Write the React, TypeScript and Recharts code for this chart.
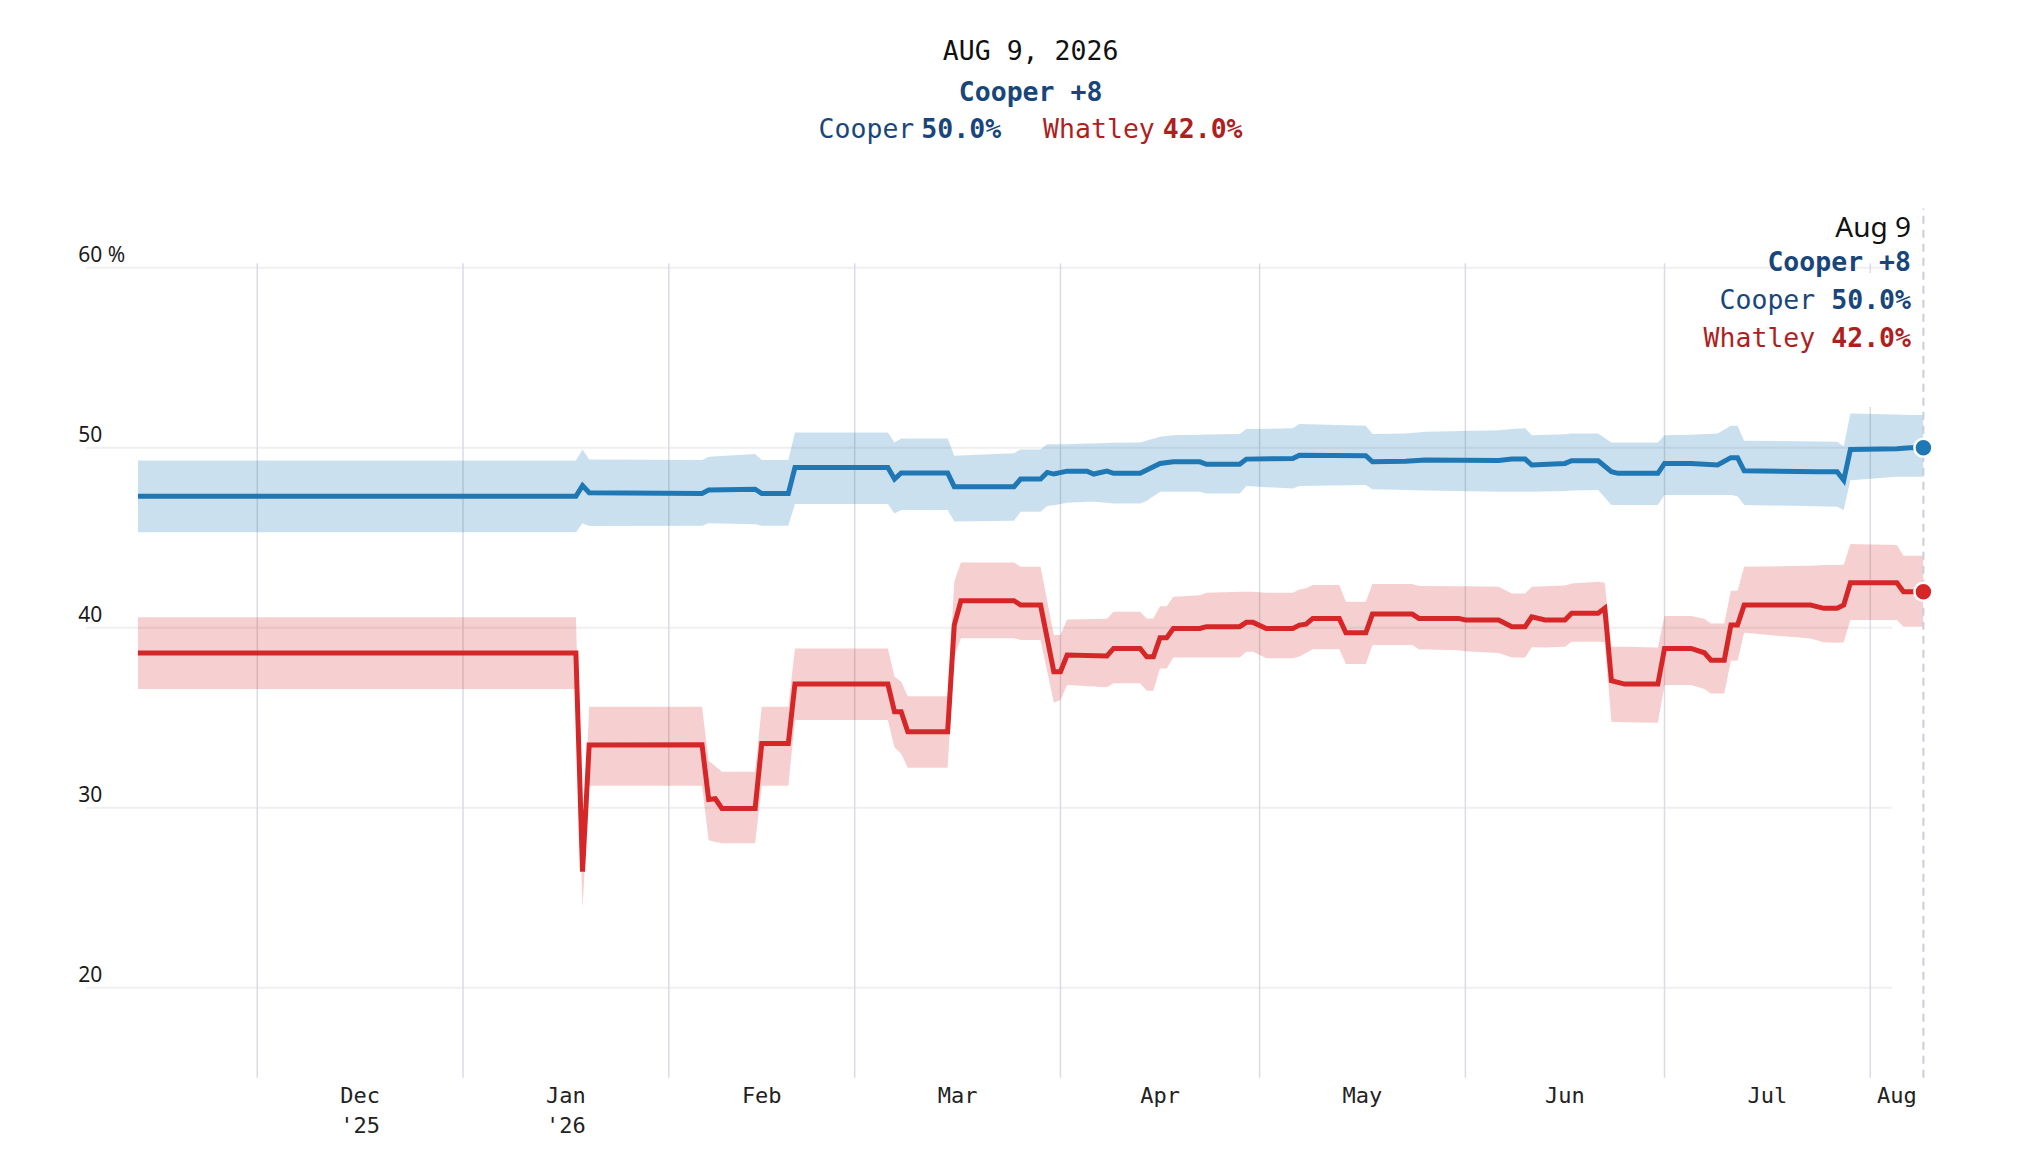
import {
  ComposedChart, Area, Line, XAxis, YAxis, CartesianGrid, ReferenceLine, ReferenceDot,
} from 'recharts';

// Cooper: polling average with uncertainty band
const cooperDates = [
  '2025-11-13', '2026-01-18', '2026-01-19', '2026-01-20', '2026-02-06', '2026-02-07', '2026-02-14',
  '2026-02-15', '2026-02-19', '2026-02-20', '2026-03-06', '2026-03-07', '2026-03-08', '2026-03-15',
  '2026-03-16', '2026-03-25', '2026-03-26', '2026-03-29', '2026-03-30', '2026-03-31', '2026-04-02',
  '2026-04-05', '2026-04-06', '2026-04-08', '2026-04-09', '2026-04-13', '2026-04-14', '2026-04-16',
  '2026-04-18', '2026-04-22', '2026-04-23', '2026-04-28', '2026-04-29', '2026-05-06', '2026-05-07',
  '2026-05-17', '2026-05-18', '2026-05-23', '2026-05-26', '2026-06-06', '2026-06-08', '2026-06-10',
  '2026-06-11', '2026-06-16', '2026-06-17', '2026-06-21', '2026-06-23', '2026-06-24', '2026-06-30',
  '2026-07-01', '2026-07-05', '2026-07-09', '2026-07-11', '2026-07-12', '2026-07-13', '2026-07-24',
  '2026-07-27', '2026-07-28', '2026-07-29', '2026-08-05', '2026-08-07', '2026-08-09',
];
const cooperMid = [
  47.3, 47.3, 47.9, 47.5, 47.46, 47.65, 47.7,
  47.46, 47.46, 48.91, 48.91, 48.26, 48.6, 48.6,
  47.84, 47.84, 48.26, 48.26, 48.63, 48.54, 48.7,
  48.7, 48.54, 48.7, 48.58, 48.58, 48.76, 49.13,
  49.22, 49.22, 49.08, 49.08, 49.37, 49.4, 49.59,
  49.56, 49.22, 49.25, 49.32, 49.3, 49.37, 49.37,
  49.04, 49.13, 49.28, 49.28, 48.67, 48.58, 48.58,
  49.13, 49.13, 49.04, 49.45, 49.45, 48.72, 48.67,
  48.67, 48.2, 49.91, 49.95, 50.0, 50.0,
];
const cooperLow = [
  45.3, 45.3, 45.8, 45.65, 45.67, 45.8, 45.75,
  45.67, 45.67, 46.87, 46.87, 46.35, 46.54, 46.54,
  45.9, 45.95, 46.45, 46.45, 46.76, 46.8, 46.95,
  47.0, 47.0, 46.95, 46.91, 46.91, 47.05, 47.56,
  47.56, 47.56, 47.46, 47.46, 47.87, 47.74, 47.87,
  47.93, 47.69, 47.65, 47.62, 47.56, 47.56, 47.56,
  47.56, 47.6, 47.62, 47.65, 46.82, 46.82, 46.82,
  47.37, 47.37, 47.37, 47.37, 47.3, 46.82, 46.75,
  46.72, 46.54, 48.2, 48.39, 48.39, 48.39,
];
const cooperHigh = [
  49.3, 49.3, 49.9, 49.35, 49.32, 49.5, 49.65,
  49.32, 49.32, 50.85, 50.85, 50.3, 50.52, 50.52,
  49.56, 49.7, 49.91, 49.91, 50.19, 50.2, 50.2,
  50.24, 50.24, 50.26, 50.28, 50.3, 50.4, 50.61,
  50.7, 50.72, 50.74, 50.76, 51.04, 51.08, 51.32,
  51.22, 50.76, 50.8, 50.89, 50.98, 51.05, 51.08,
  50.7, 50.75, 50.8, 50.8, 50.3, 50.3, 50.3,
  50.7, 50.72, 50.8, 51.22, 51.22, 50.39, 50.35,
  50.33, 50.09, 51.9, 51.85, 51.82, 51.82,
];

// Whatley
const whatleyDates = [
  '2025-11-13', '2026-01-18', '2026-01-19', '2026-01-20', '2026-02-06', '2026-02-07', '2026-02-08',
  '2026-02-09', '2026-02-14', '2026-02-15', '2026-02-19', '2026-02-20', '2026-03-06', '2026-03-07',
  '2026-03-08', '2026-03-09', '2026-03-15', '2026-03-16', '2026-03-17', '2026-03-25', '2026-03-26',
  '2026-03-29', '2026-03-31', '2026-04-01', '2026-04-02', '2026-04-08', '2026-04-09', '2026-04-13',
  '2026-04-14', '2026-04-15', '2026-04-16', '2026-04-17', '2026-04-18', '2026-04-22', '2026-04-23',
  '2026-04-28', '2026-04-29', '2026-04-30', '2026-05-02', '2026-05-06', '2026-05-07', '2026-05-08',
  '2026-05-09', '2026-05-13', '2026-05-14', '2026-05-17', '2026-05-18', '2026-05-24', '2026-05-25',
  '2026-05-31', '2026-06-01', '2026-06-06', '2026-06-08', '2026-06-10', '2026-06-11', '2026-06-13',
  '2026-06-16', '2026-06-17', '2026-06-21', '2026-06-22', '2026-06-23', '2026-06-25', '2026-06-30',
  '2026-07-01', '2026-07-05', '2026-07-07', '2026-07-08', '2026-07-10', '2026-07-11', '2026-07-12',
  '2026-07-13', '2026-07-23', '2026-07-25', '2026-07-27', '2026-07-28', '2026-07-29', '2026-08-05',
  '2026-08-06', '2026-08-09',
];
const whatleyMid = [
  38.6, 38.6, 26.45, 33.48, 33.5, 30.46, 30.5,
  29.96, 29.96, 33.57, 33.57, 36.87, 36.87, 35.33,
  35.33, 34.22, 34.22, 40.15, 41.5, 41.5, 41.26,
  41.26, 37.56, 37.56, 38.48, 38.43, 38.85, 38.85,
  38.39, 38.39, 39.45, 39.45, 39.96, 39.96, 40.06,
  40.06, 40.3, 40.3, 39.96, 39.96, 40.15, 40.2,
  40.52, 40.52, 39.72, 39.72, 40.76, 40.76, 40.52,
  40.52, 40.43, 40.43, 40.06, 40.06, 40.61, 40.43,
  40.43, 40.8, 40.8, 41.08, 37.06, 36.87, 36.87,
  38.85, 38.85, 38.61, 38.2, 38.2, 40.15, 40.15,
  41.26, 41.26, 41.08, 41.08, 41.26, 42.5, 42.5,
  42.0, 42.0,
];
const whatleyLow = [
  36.6, 36.6, 24.4, 31.22, 31.22, 28.2, 28.1,
  28.02, 28.02, 31.22, 31.22, 34.87, 34.87, 33.35,
  33.0, 32.22, 32.22, 38.39, 39.41, 39.41, 39.32,
  39.32, 35.84, 35.98, 36.82, 36.7, 36.91, 36.91,
  36.5, 36.5, 37.74, 37.74, 38.35, 38.35, 38.35,
  38.35, 38.67, 38.67, 38.3, 38.3, 38.4, 38.6,
  38.8, 38.8, 37.98, 37.98, 39.04, 39.04, 38.8,
  38.75, 38.7, 38.6, 38.35, 38.35, 38.91, 38.9,
  38.95, 39.22, 39.22, 39.2, 34.78, 34.75, 34.72,
  36.82, 36.82, 36.6, 36.35, 36.35, 38.17, 38.17,
  39.72, 39.4, 39.2, 39.17, 39.2, 40.43, 40.43,
  40.06, 40.06,
];
const whatleyHigh = [
  40.58, 40.58, 27.5, 35.61, 35.61, 32.61, 32.3,
  32.0, 32.0, 35.61, 35.61, 38.85, 38.85, 37.28,
  37.0, 36.2, 36.2, 42.56, 43.63, 43.63, 43.39,
  43.39, 39.6, 39.6, 40.46, 40.5, 40.89, 40.89,
  40.52, 40.52, 41.2, 41.2, 41.72, 41.8, 41.95,
  42.0, 42.0, 42.0, 41.95, 41.95, 42.13, 42.2,
  42.37, 42.37, 41.45, 41.45, 42.43, 42.43, 42.32,
  42.3, 42.3, 42.28, 41.91, 41.91, 42.28, 42.3,
  42.35, 42.46, 42.56, 42.5, 38.95, 38.95, 38.9,
  40.65, 40.65, 40.5, 40.24, 40.24, 42.06, 42.06,
  43.39, 43.45, 43.48, 43.48, 43.5, 44.65, 44.6,
  44.0, 44.0,
];

const monthStarts = [
  '2025-12-01', '2026-01-01', '2026-02-01', '2026-03-01', '2026-04-01',
  '2026-05-01', '2026-06-01', '2026-07-01', '2026-08-01',
];
const monthLabels = [['Dec', "'25"], ['Jan', "'26"], ['Feb'], ['Mar'], ['Apr'], ['May'], ['Jun'], ['Jul'], ['Aug']];
const yTicks = [20, 30, 40, 50, 60];

const headerDate = 'AUG 9, 2026';
const annotationDate = 'Aug 9';
const leaderText = 'Cooper +8';
const candidates = ['Cooper', 'Whatley'];
const shares = ['50.0%', '42.0%'];

const BLUE = '#1f77b4';
const RED = '#d62728';
const NAVY = '#19467a';
const DARK_RED = '#ae1f1f';
const MONO = '"DejaVu Sans Mono", monospace';
const SANS = '"Noto Sans", sans-serif';

const toDay = (s: string) => {
  const [y, m, d] = s.split('-').map(Number);
  return Date.UTC(y, m - 1, d) / 86400000;
};

const toRows = (dates: string[], mid: number[], lo: number[], hi: number[]) =>
  dates.map((s, i) => ({ x: toDay(s), mid: mid[i], band: [lo[i], hi[i]] }));

const cooperRows = toRows(cooperDates, cooperMid, cooperLow, cooperHigh);
const whatleyRows = toRows(whatleyDates, whatleyMid, whatleyLow, whatleyHigh);

const startX = toDay(cooperDates[0]);
const endX = toDay(cooperDates[cooperDates.length - 1]);
const monthStartX = monthStarts.map(toDay);
// labels sit in the middle of the visible part of each month
const monthMidX = monthStartX.map((m, i) => (m + (monthStartX[i + 1] ?? endX)) / 2);

const W = 2018;
const H = 1150;
const MARGIN = { top: 255.3, right: 102.6, bottom: 50.3, left: 69.8 };
const PLOT_LEFT = 129.8;
const PLOT_RIGHT = W - MARGIN.right;
const CENTER = (PLOT_LEFT + PLOT_RIGHT) / 2;

function XTick(props: any) {
  const { x, y, index } = props;
  const lines = monthLabels[index] ?? [];
  return (
    <text x={x} y={y + 25.6} textAnchor="middle" fontFamily={MONO} fontSize={22} fill="#222">
      {lines.map((l, i) => (
        <tspan key={i} x={x} dy={i === 0 ? 0 : 29.4}>{l}</tspan>
      ))}
    </text>
  );
}

function YTick(props: any) {
  const { x, y, payload } = props;
  const v = payload.value;
  return (
    <text x={x - 59.5} y={y - 6} textAnchor="start" fontFamily={SANS} fontSize={21} fill="#1a1a1a">
      {v === 60 ? '60 %' : v}
    </text>
  );
}

export default function App() {
  return (
    <div style={{ position: 'relative', width: W, height: H }}>
      <ComposedChart width={W} height={H} margin={MARGIN}>
        <XAxis
          dataKey="x"
          type="number"
          domain={[startX, endX]}
          allowDataOverflow
          ticks={monthMidX}
          interval={0}
          tick={<XTick />}
          tickLine={false}
          axisLine={false}
          tickSize={0}
          tickMargin={0}
          height={30}
        />
        <YAxis
          type="number"
          domain={[15, 60.25]}
          allowDataOverflow
          ticks={yTicks}
          interval={0}
          tick={<YTick />}
          tickLine={false}
          axisLine={false}
          tickSize={0}
          tickMargin={0}
          width={60}
        />
        <CartesianGrid
          vertical={false}
          syncWithTicks
          horizontal={(p: any) => (
            <line
              key={`h-${p.index}`}
              x1={p.x1 - 51.5}
              x2={p.x2 - 31.7}
              y1={p.y1}
              y2={p.y2}
              stroke="#efefef"
              strokeWidth={2}
            />
          )}
        />
        <CartesianGrid
          horizontal={false}
          verticalValues={monthStartX}
          syncWithTicks
          stroke="#d9dce4"
          strokeWidth={1.5}
        />
        <Area data={cooperRows} dataKey="band" type="linear" stroke="none" fill={BLUE} fillOpacity={0.23} isAnimationActive={false} />
        <Area data={whatleyRows} dataKey="band" type="linear" stroke="none" fill={RED} fillOpacity={0.22} isAnimationActive={false} />
        <ReferenceLine
          segment={[{ x: endX, y: 15 }, { x: endX, y: 63.3 }]}
          stroke="#c9ced8"
          strokeWidth={2}
          strokeDasharray="8 6"
          ifOverflow="visible"
        />
        <Line data={cooperRows} dataKey="mid" type="linear" stroke={BLUE} strokeWidth={5} dot={false} isAnimationActive={false} />
        <Line data={whatleyRows} dataKey="mid" type="linear" stroke={RED} strokeWidth={5} dot={false} isAnimationActive={false} />
        <ReferenceDot x={endX} y={cooperMid[cooperMid.length - 1]} r={9} fill={BLUE} stroke="#fff" strokeWidth={2.5} ifOverflow="visible" />
        <ReferenceDot x={endX} y={whatleyMid[whatleyMid.length - 1]} r={9} fill={RED} stroke="#fff" strokeWidth={2.5} ifOverflow="visible" />
      </ComposedChart>
      <svg width={W} height={H} style={{ position: 'absolute', left: 0, top: 0, pointerEvents: 'none' }}>
        <text x={CENTER} y={52} textAnchor="middle" fontFamily={MONO} fontSize={26.5} fill="#111">{headerDate}</text>
        <text x={CENTER} y={93} textAnchor="middle" fontFamily={MONO} fontSize={26.5} fontWeight="bold" fill={NAVY}>{leaderText}</text>
        <text x={CENTER} y={130} textAnchor="middle" fontFamily={MONO} fontSize={26.5}>
          <tspan fill={NAVY}>{candidates[0]}</tspan>
          <tspan dx={7} fill={NAVY} fontWeight="bold">{shares[0]}</tspan>
          <tspan dx={42} fill={DARK_RED}>{candidates[1]}</tspan>
          <tspan dx={8} fill={DARK_RED} fontWeight="bold">{shares[1]}</tspan>
        </text>
        <rect x={1672} y={265} width={235} height={134} fill="#fff" />
        <text x={1903} y={228.7} textAnchor="end" fontFamily={SANS} fontSize={28} fill="#111">{annotationDate}</text>
        <text x={1903} y={263} textAnchor="end" fontFamily={MONO} fontSize={26.5} fontWeight="bold" fill={NAVY}>{leaderText}</text>
        <text x={1903} y={301} textAnchor="end" fontFamily={MONO} fontSize={26.5} fill={NAVY}>
          {candidates[0]} <tspan fontWeight="bold">{shares[0]}</tspan>
        </text>
        <text x={1903} y={338.7} textAnchor="end" fontFamily={MONO} fontSize={26.5} fill={DARK_RED}>
          {candidates[1]} <tspan fontWeight="bold">{shares[1]}</tspan>
        </text>
      </svg>
    </div>
  );
}
